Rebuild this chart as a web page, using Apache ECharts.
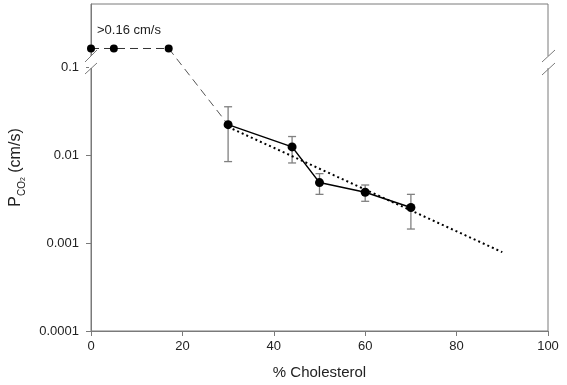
<!DOCTYPE html>
<html>
<head>
<meta charset="utf-8">
<script src="https://cdn.jsdelivr.net/npm/echarts@6/dist/echarts.min.js"></script>
<style>
  html, body { margin: 0; padding: 0; background: #fff; }
  #chart { width: 567px; height: 385px; }
</style>
</head>
<body>
<div id="chart"></div>
<script>
// top points (permeability above 0.16 cm/s, shown past the break)
var topX = [0, 5, 17];
var topY = [0.165, 0.165, 0.165];
// measured points with error bars
var measX = [30, 44, 50, 60, 70];
var measY = [0.0224, 0.0125, 0.0049, 0.0038, 0.00255];
var errHigh = [0.0358, 0.0164, 0.0062, 0.0046, 0.0036];
var errLow = [0.0085, 0.0082, 0.0036, 0.0030, 0.00145];
// dashed connector from plateau to first measured point
var dashX = [17, 30];
var dashY = [0.165, 0.0224];
// dotted exponential fit
var fitX = [30, 90];
var fitY = [0.0211, 0.00079];
var yTicks = [0.0001, 0.001, 0.01, 0.1];

function pairs(xs, ys) {
  return xs.map(function (x, i) { return [x, ys[i]]; });
}

var chart = echarts.init(document.getElementById('chart'));
var axisGray = '#7a7a7a';
var txt = '#222';

var option = {
  animation: false,
  grid: { left: 91, right: 19, top: 4, bottom: 54, show: true, borderColor: axisGray, borderWidth: 1 },
  xAxis: {
    type: 'value', min: 0, max: 100, interval: 20,
    name: '% Cholesterol', nameLocation: 'middle', nameGap: 34,
    nameTextStyle: { fontFamily: 'Liberation Sans', fontSize: 15, color: txt },
    axisLine: { lineStyle: { color: axisGray, width: 1 } },
    axisTick: { inside: false, length: 5, lineStyle: { color: axisGray } },
    axisLabel: { fontFamily: 'Liberation Sans', fontSize: 13, color: txt, margin: 9 },
    splitLine: { show: false }
  },
  yAxis: {
    type: 'log', logBase: 10, min: 0.0001, max: 0.53,
    name: '{p|P}{s|CO}{t|2}{p| (cm/s)}', nameLocation: 'middle', nameGap: 64,
    nameTextStyle: {
      fontFamily: 'Liberation Sans', color: txt,
      rich: {
        p: { fontSize: 16, fontFamily: 'Liberation Sans', color: txt, lineHeight: 22, verticalAlign: 'middle' },
        s: { fontSize: 10, fontFamily: 'Liberation Sans', color: txt, lineHeight: 22, verticalAlign: 'bottom', padding: [6, 0, 0, 0] },
        t: { fontSize: 7, fontFamily: 'Liberation Sans', color: txt, lineHeight: 22, verticalAlign: 'bottom', padding: [8, 0, 0, 0] }
      }
    },
    axisLine: { lineStyle: { color: axisGray, width: 1 } },
    axisTick: { inside: false, length: 5, customValues: yTicks, lineStyle: { color: axisGray } },
    axisLabel: {
      fontFamily: 'Liberation Sans', fontSize: 13, color: txt, margin: 12,
      customValues: yTicks,
      formatter: function (v) { return String(+v.toPrecision(1)); }
    },
    minorTick: { show: false },
    splitLine: { show: false }
  },
  series: [
    {
      type: 'line', data: pairs(dashX, dashY), symbol: 'none', z: 2,
      lineStyle: { color: '#555', width: 1, type: [8, 5] }
    },
    {
      type: 'line', data: pairs(topX, topY), symbol: 'circle', symbolSize: 8, z: 3,
      itemStyle: { color: '#000' },
      lineStyle: { color: '#333', width: 1, type: [8, 5] }
    },
    {
      type: 'line', data: pairs(fitX, fitY), symbol: 'none', z: 2,
      lineStyle: { color: '#000', width: 2, type: [2, 3] }
    },
    {
      type: 'custom', z: 2,
      data: measX.map(function (x, i) { return [x, errLow[i], errHigh[i]]; }),
      renderItem: function (params, api) {
        var lo = api.coord([api.value(0), api.value(1)]);
        var hi = api.coord([api.value(0), api.value(2)]);
        var w = 4;
        var st = { stroke: '#808080', lineWidth: 1.3 };
        return {
          type: 'group',
          children: [
            { type: 'line', shape: { x1: lo[0], y1: lo[1], x2: hi[0], y2: hi[1] }, style: st },
            { type: 'line', shape: { x1: lo[0] - w, y1: lo[1], x2: lo[0] + w, y2: lo[1] }, style: st },
            { type: 'line', shape: { x1: hi[0] - w, y1: hi[1], x2: hi[0] + w, y2: hi[1] }, style: st }
          ]
        };
      }
    },
    {
      type: 'line', data: pairs(measX, measY), symbol: 'circle', symbolSize: 9, z: 4,
      itemStyle: { color: '#000' },
      lineStyle: { color: '#000', width: 1.5 }
    }
  ],
  graphic: [
    { type: 'rect', z: 100, shape: { x: 89, y: 56, width: 5, height: 12 }, style: { fill: '#fff' } },
    { type: 'rect', z: 100, shape: { x: 546, y: 56, width: 5, height: 12 }, style: { fill: '#fff' } },
    { type: 'line', z: 101, shape: { x1: 85, y1: 62, x2: 97, y2: 50 }, style: { stroke: axisGray, lineWidth: 1 } },
    { type: 'line', z: 101, shape: { x1: 85, y1: 74, x2: 97, y2: 63 }, style: { stroke: axisGray, lineWidth: 1 } },
    { type: 'line', z: 101, shape: { x1: 542, y1: 62, x2: 555, y2: 50 }, style: { stroke: axisGray, lineWidth: 1 } },
    { type: 'line', z: 101, shape: { x1: 542, y1: 75, x2: 555, y2: 63 }, style: { stroke: axisGray, lineWidth: 1 } },
    {
      type: 'text', z: 101, left: 97, top: 24,
      style: { text: '>0.16 cm/s', fontFamily: 'Liberation Sans', fontSize: 13, fill: txt }
    }
  ]
};
chart.setOption(option);
</script>
</body>
</html>
